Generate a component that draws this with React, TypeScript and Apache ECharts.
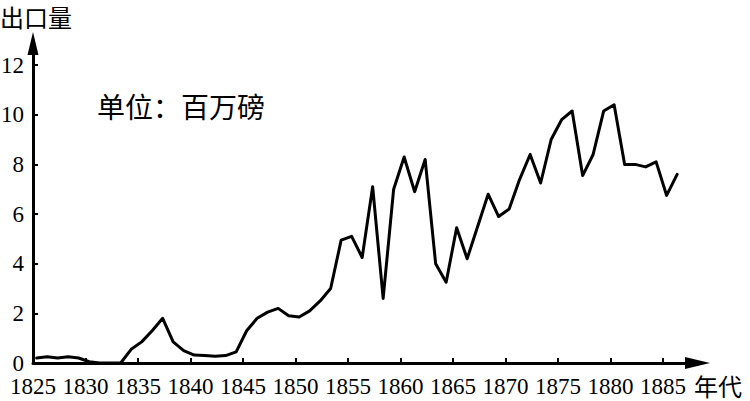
import React, { useEffect, useRef } from "react";
import * as echarts from "echarts";

const years: number[] = [];
for (let y = 1825; y <= 1886; y++) years.push(y);

const exportsMillion: number[] = [
  0.2, 0.25, 0.2, 0.25, 0.2, 0.05, 0, 0, 0, 0.55,
  0.85, 1.3, 1.8, 0.85, 0.5, 0.32, 0.3, 0.27, 0.3, 0.45,
  1.3, 1.8, 2.05, 2.2, 1.9, 1.85, 2.1, 2.5, 3.0, 4.95,
  5.1, 4.25, 7.1, 2.6, 7.0, 8.3, 6.9, 8.2, 4.0, 3.25,
  5.45, 4.2, 5.5, 6.8, 5.9, 6.2, 7.4, 8.4, 7.25, 9.0,
  9.8, 10.15, 7.55, 8.4, 10.15, 10.4, 8.0, 8.0, 7.9, 8.1,
  6.75, 7.6,
];

const xTicks: number[] = [1825, 1830, 1835, 1840, 1845, 1850, 1855, 1860, 1865, 1870, 1875, 1880, 1885];
const yTicks: number[] = [0, 2, 4, 6, 8, 10, 12];

const yAxisTitle = "出口量";
const xAxisTitle = "年代";
const unitNote = "单位：百万磅";

const SERIF = "Liberation Serif";
const CJK = "Noto Sans CJK SC";

export default function App() {
  const ref = useRef<HTMLDivElement>(null);
  useEffect(() => {
    if (!ref.current) return;
    const chart = echarts.init(ref.current, null, { renderer: "svg" });
    const data = years.map((y, i) => [y + 0.35, exportsMillion[i]]);
    chart.setOption({
      animation: false,
      backgroundColor: "#ffffff",
      textStyle: { fontFamily: SERIF, fontWeight: "normal" },
      grid: {
        left: 33,
        right: 52.5,
        top: 43.5,
        bottom: 38,
        containLabel: false,
        outerBoundsMode: "none",
      },
      xAxis: {
        type: "value",
        min: 1825,
        max: 1888.29,
        interval: 5,
        splitLine: { show: false },
        axisLine: {
          show: true,
          onZero: false,
          lineStyle: { color: "#000", width: 3 },
          symbol: ["none", "triangle"],
          symbolSize: [12, 25],
        },
        axisTick: {
          show: true,
          inside: true,
          length: 5,
          lineStyle: { color: "#000", width: 2 },
          customValues: xTicks,
        },
        axisLabel: {
          color: "#000",
          fontFamily: SERIF,
          fontSize: 23,
          lineHeight: 20,
          margin: 13,
          customValues: xTicks,
          formatter: (v: number) => String(v),
        },
      },
      yAxis: {
        type: "value",
        min: 0,
        max: 12.87,
        interval: 2,
        splitLine: { show: false },
        axisLine: {
          show: true,
          lineStyle: { color: "#000", width: 3 },
          symbol: ["none", "triangle"],
          symbolSize: [11, 23],
        },
        axisTick: {
          show: true,
          inside: true,
          length: 5,
          lineStyle: { color: "#000", width: 2 },
          customValues: yTicks,
        },
        axisLabel: {
          color: "#000",
          fontFamily: SERIF,
          fontSize: 23,
          lineHeight: 20,
          margin: 9,
          customValues: yTicks,
          formatter: (v: number) => String(v),
        },
      },
      graphic: [
        {
          type: "text",
          left: 0,
          top: 4,
          style: { text: yAxisTitle, fontFamily: CJK, fontSize: 24, lineHeight: 25, fill: "#000" },
        },
        {
          type: "text",
          left: 97,
          top: 92,
          style: { text: unitNote, fontFamily: CJK, fontSize: 28, fill: "#000" },
        },
        {
          type: "text",
          left: 694,
          top: 373,
          style: { text: xAxisTitle, fontFamily: CJK, fontSize: 24, lineHeight: 25, fill: "#000" },
        },
      ],
      series: [
        {
          type: "line",
          data,
          showSymbol: false,
          symbol: "none",
          lineStyle: { color: "#000", width: 3, join: "round", cap: "round" },
          itemStyle: { color: "#000" },
        },
      ],
    });
    return () => chart.dispose();
  }, []);
  return (
    <div
      ref={ref}
      style={{ position: "fixed", left: 0, top: 0, width: 750, height: 401, background: "#fff" }}
    />
  );
}
